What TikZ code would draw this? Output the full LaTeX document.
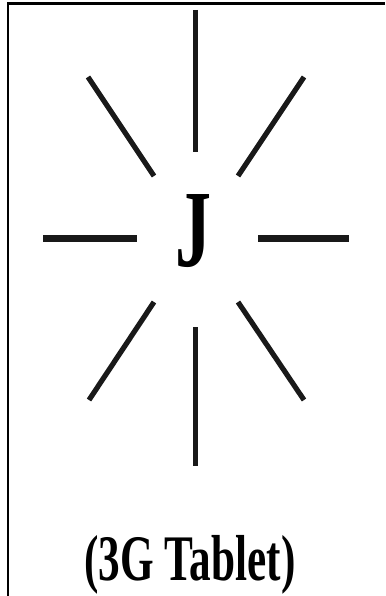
\documentclass[tikz,border=0pt]{standalone}
\usepackage{fontspec}
\usepackage{graphicx}
\setmainfont{Liberation Serif}
\begin{document}
\begin{tikzpicture}[x=1pt,y=-1pt,
  ray/.style={line width=5.2pt, black!90},
  vray/.style={line width=5.5pt, black!90},
  hray/.style={line width=7pt, black!90},
  frame/.style={line width=2.4pt, black},
  lbl/.style={inner sep=0pt, font=\bfseries}]
\useasboundingbox (0,0) rectangle (385,596);
% frame (top and left only)
\draw[frame] (385,3.7) -- (7.7,3.7) -- (7.7,596);
% rays
\draw[vray] (195.5,10) -- (195.5,152);
\draw[vray] (195.5,327) -- (195.5,466);
\draw[hray] (43,238.5) -- (136.5,238.5);
\draw[hray] (258,238.5) -- (349,238.5);
\draw[ray] (88,77) -- (154,176);
\draw[ray] (304,77) -- (238,176);
\draw[ray] (154,302) -- (89,400);
\draw[ray] (238,302) -- (304,400);
% centre letter
\node[lbl] (j) at (193,231) {\resizebox*{36pt}{73pt}{J}};
% caption
\node[lbl, anchor=base] (cap) at (190,580) {\scalebox{0.665}[1]{\fontsize{65}{65}\selectfont (3G Tablet)}};
\end{tikzpicture}
\end{document}
